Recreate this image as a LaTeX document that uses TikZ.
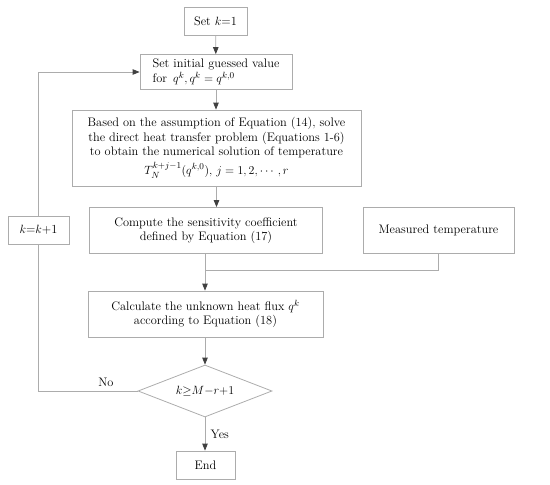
\documentclass[tikz,border=0pt]{standalone}
\usepackage{amsmath, amssymb}
\usepackage{tikz}
\usetikzlibrary{arrows.meta,shapes.geometric}
\tikzset{
  box/.style={draw=gray!65,line width=0.8pt,inner sep=1pt,align=center},
  cond/.style={draw=gray!65,line width=0.8pt,diamond,aspect=2.6,inner sep=1pt,minimum width=134bp,minimum height=52bp},
  flow/.style={draw=gray!65,line width=0.8pt,-{Triangle[length=7pt,width=5.5pt,fill=black!75,color=black!75]}},
  link/.style={draw=gray!65,line width=0.8pt}
}
\begin{document}
\begin{tikzpicture}[x=1bp,y=-1bp,font=\fontsize{12.4}{14.5}\selectfont]
  \useasboundingbox (0,0) rectangle (550,485);
  \node[box,minimum width=63bp,minimum height=28bp] (start) at (215.5,21) {Set $k$=1};
  \node[box,minimum width=152bp,minimum height=35bp,align=left] (guess) at (216,72) {Set initial guessed value\\for \,$q^k, q^k=q^{k,0}$};
  \node[box,minimum width=289bp,minimum height=76bp] (solve) at (216.5,148) {Based on the assumption of Equation (14), solve\\the direct heat transfer problem (Equations 1-6)\\to obtain the numerical solution of temperature\\[3pt]$T_N^{k+j-1}(q^{k,0}),\, j=1,2,\cdots,r$};
  \node[box,minimum width=233bp,minimum height=46bp] (sens) at (206,230.5) {Compute the sensitivity coefficient\\defined by Equation (17)};
  \node[box,minimum width=151bp,minimum height=46bp] (meas) at (438.5,230.5) {Measured temperature};
  \node[box,minimum width=235bp,minimum height=46bp] (flux) at (205.5,314) {Calculate the unknown heat flux $q^k$\\according to Equation (18)};
  \node[cond] (check) at (205,391) {$k{\geq}M{-}r{+}1$};
  \node[box,minimum width=59bp,minimum height=28bp] (stop) at (205.5,465) {End};
  \node[box,minimum width=61bp,minimum height=28bp] (incr) at (38.5,230) {$k$=$k$+1};
  \coordinate (join) at (205,270);
  \draw[flow] (start) -- (guess);
  \draw[flow] (guess) -- (guess |- solve.north);
  \draw[flow] (solve.south) -- (solve.south |- sens.north);
  \draw[link] (sens.south -| join) -- (join);
  \draw[link] (meas.south) |- (join);
  \draw[flow] (join) -- (flux.north -| join);
  \draw[flow] (flux.south -| check) -- (check.north);
  \draw[flow] (check.south) -- node[right=2pt] {Yes} (stop.north -| check);
  \draw[link] (check.west) -| node[pos=0.16,above=1pt] {No} (incr.south);
  \draw[flow] (incr.north) |- (guess.west);
\end{tikzpicture}
\end{document}
